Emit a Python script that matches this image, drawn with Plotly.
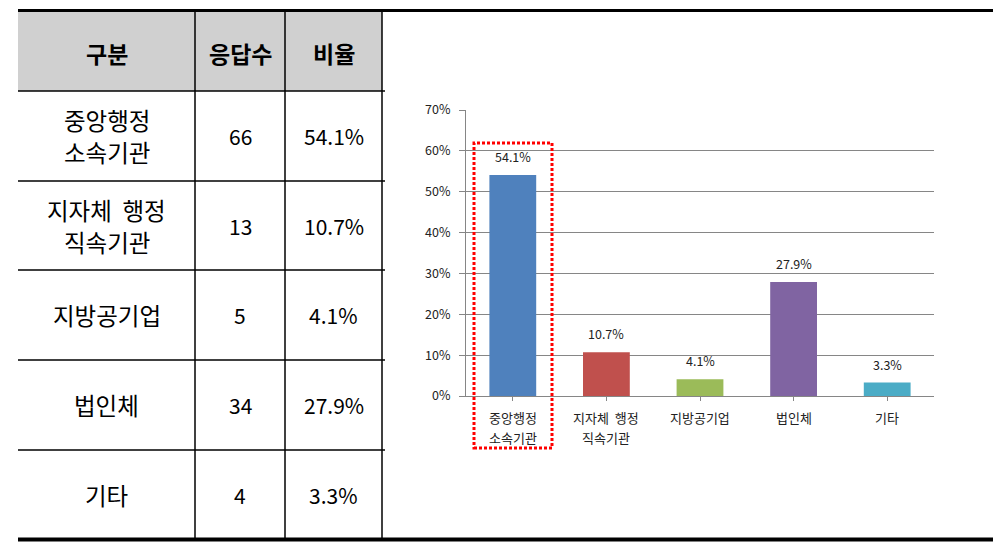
import plotly.graph_objects as go

# ---- data ----
categories = ["중앙행정<br>소속기관", "지자체 행정<br>직속기관", "지방공기업", "법인체", "기타"]
counts = [66, 13, 5, 34, 4]
percents = [54.1, 10.7, 4.1, 27.9, 3.3]
bar_colors = ["#4F81BD", "#C0504D", "#9BBB59", "#8064A2", "#4BACC6"]
headers = ["구분", "응답수", "비율"]
y_ticks = [0, 10, 20, 30, 40, 50, 60, 70]

W, H = 1000, 548
FONT = "Noto Sans CJK KR"


def px(x):
    return x / W


def py(y):
    return 1 - y / H


x_pos = list(range(len(categories)))

fig = go.Figure()
fig.add_trace(go.Bar(
    x=x_pos, y=percents, marker=dict(color=bar_colors, line=dict(width=0)),
    width=0.5, showlegend=False, hoverinfo="skip",
))

shapes = []
annotations = []

# ---- table ----
col_edges = [18, 195, 285, 382]
row_edges = [12, 91, 181, 270, 360, 450, 539]

shapes.append(dict(type="rect", xref="paper", yref="paper",
                   x0=px(col_edges[0]), x1=px(col_edges[-1]),
                   y0=py(row_edges[0]), y1=py(row_edges[1]),
                   fillcolor="#D0D0D0", line=dict(width=0), layer="below"))
for yy, lw in [(10.5, 3), (539.5, 4)]:
    shapes.append(dict(type="line", xref="paper", yref="paper",
                       x0=px(18), x1=px(993), y0=py(yy), y1=py(yy),
                       line=dict(color="black", width=lw)))
for yy in row_edges[1:-1]:
    shapes.append(dict(type="line", xref="paper", yref="paper",
                       x0=px(18), x1=px(385), y0=py(yy), y1=py(yy),
                       line=dict(color="black", width=1.5)))
for xx in col_edges[1:]:
    shapes.append(dict(type="line", xref="paper", yref="paper",
                       x0=px(xx), x1=px(xx), y0=py(12), y1=py(538),
                       line=dict(color="black", width=1.5)))

col_centers = [(col_edges[i] + col_edges[i + 1]) / 2 for i in range(3)]
row_centers = [(row_edges[i] + row_edges[i + 1]) / 2 for i in range(len(row_edges) - 1)]

for c, h in enumerate(headers):
    annotations.append(dict(xref="paper", yref="paper", x=px(col_centers[c]), y=py(row_centers[0] + 1),
                            text="<b>" + h + "</b>", showarrow=False, xanchor="center", yanchor="middle",
                            font=dict(family=FONT, size=23, color="black")))

LINE_GAP = 32
for r, (cat, n, p) in enumerate(zip(categories, counts, percents)):
    yc = row_centers[r + 1]
    lines = cat.split("<br>")
    offs = [(i - (len(lines) - 1) / 2) * LINE_GAP for i in range(len(lines))]
    for line, o in zip(lines, offs):
        annotations.append(dict(xref="paper", yref="paper", x=px(col_centers[0]), y=py(yc + o),
                                text=line.replace(" ", "&nbsp; "), showarrow=False,
                                xanchor="center", yanchor="middle",
                                font=dict(family=FONT, size=23.5, color="black")))
    for c, t in [(1, str(n)), (2, f"{p:.1f}%")]:
        annotations.append(dict(xref="paper", yref="paper", x=px(col_centers[c]), y=py(yc),
                                text=t, showarrow=False, xanchor="center", yanchor="middle",
                                font=dict(family=FONT, size=21, color="black")))

# ---- bar value labels ----
for xi, v in zip(x_pos, percents):
    annotations.append(dict(xref="x", yref="y", x=xi, y=v, text=f"{v:.1f}%", showarrow=False,
                            xanchor="center", yanchor="bottom", yshift=7,
                            font=dict(family=FONT, size=12.5, color="#222222")))

# ---- category labels under the axis (one annotation per line for Excel-like spacing) ----
for xi, cat in zip(x_pos, categories):
    for li, line in enumerate(cat.split("<br>")):
        annotations.append(dict(xref="x", yref="y domain", x=xi, y=0, text=line.replace(" ", "&nbsp; "),
                                showarrow=False, xanchor="center", yanchor="middle", yshift=-21 - 20 * li,
                                font=dict(family=FONT, size=13, color="#222222")))

# ---- red dotted highlight box ----
shapes.append(dict(type="rect", xref="x domain", yref="y domain",
                   x0=(474 - 466) / 468, x1=(552 - 466) / 468,
                   y0=(396 - 448) / 286, y1=(396 - 143) / 286,
                   line=dict(color="#FF0000", width=3, dash="3px,2px"), fillcolor="rgba(0,0,0,0)"))

fig.update_layout(
    width=W, height=H, autosize=False,
    margin=dict(l=0, r=0, t=0, b=0, pad=0, autoexpand=False),
    paper_bgcolor="white", plot_bgcolor="white",
    font=dict(family=FONT, size=12.5, color="#222222"),
    bargap=0.5,
    shapes=shapes, annotations=annotations,
    xaxis=dict(domain=[px(466), px(934)], range=[-0.5, len(categories) - 0.5],
               tickmode="array", tickvals=x_pos, ticktext=categories, showticklabels=False,
               showline=True, linecolor="#868686", linewidth=1,
               ticks="outside", tickson="boundaries", ticklen=4, tickcolor="#868686",
               showgrid=False, zeroline=False, fixedrange=True, automargin=False),
    yaxis=dict(domain=[py(396), py(110)], range=[0, 70],
               tickmode="array", tickvals=y_ticks, ticktext=[f"{t}%" for t in y_ticks],
               showline=True, linecolor="#868686", linewidth=1,
               ticks="outside", ticklen=6, tickcolor="#868686",
               showgrid=True, gridcolor="#868686", gridwidth=1, zeroline=False,
               ticklabelstandoff=6, fixedrange=True, automargin=False,
               tickfont=dict(family=FONT, size=12.5, color="#222222")),
)

fig.write_html("out.html")
